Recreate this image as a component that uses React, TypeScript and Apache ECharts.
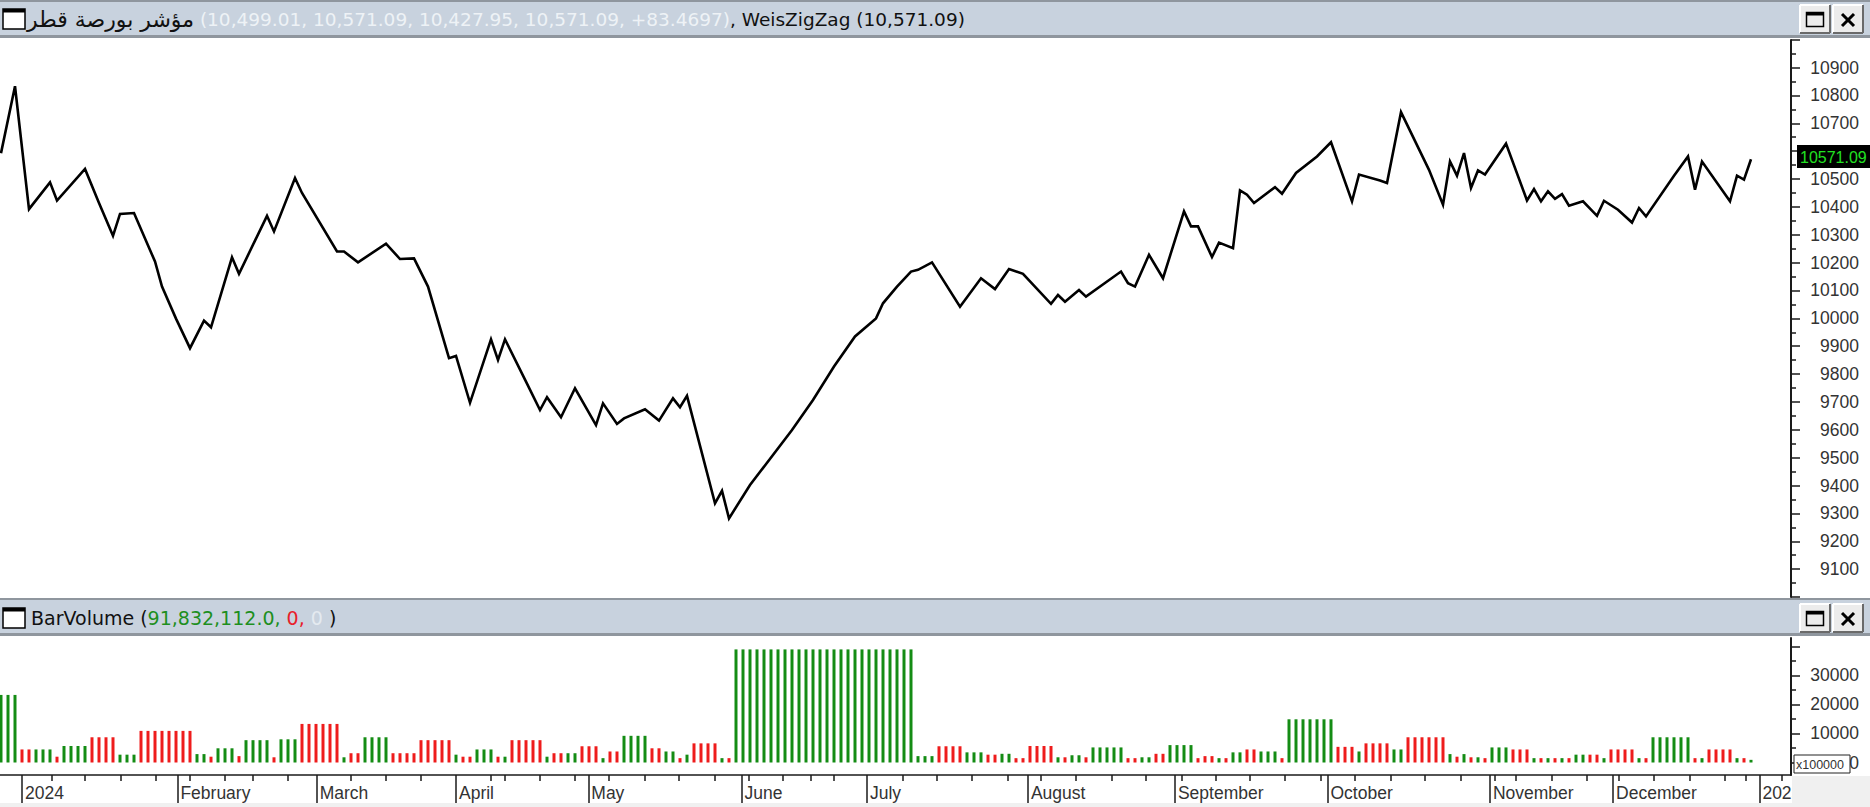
import React, { useEffect, useRef } from "react";
import * as echarts from "echarts";

// ---------- data (x = trading-bar index) ----------
const lineIdx = [0,2,4,7,8,12,14,16,17,19,22,23,25,27,29,30,33,34,38,39,42,43,48,49,51,55,57,59,61,64,65,67,70,71,72,75,77,78,80,82,85,86,88,89,92,94,96,97,98,102,103,104,107,113,116,119,122,125,126,128,130,131,133,137,140,142,144,146,150,151,152,154,155,160,161,162,164,166,169,170,171,173,174,176,177,178,179,182,183,185,188,190,193,194,197,198,200,204,206,207,208,209,210,211,212,215,218,219,220,221,222,223,224,226,228,229,231,233,234,235,239,241,242,243,247,248,249,250];
const lineVal = [10593,10833,10392,10488,10423,10536,10414,10296,10375,10378,10204,10114,9999,9893,9992,9968,10219,10160,10368,10312,10504,10450,10240,10240,10201,10268,10213,10215,10114,9857,9865,9697,9925,9851,9925,9773,9671,9717,9645,9749,9617,9695,9621,9641,9674,9633,9713,9681,9722,9336,9381,9282,9402,9599,9707,9827,9935,10000,10054,10114,10168,10174,10201,10042,10144,10105,10177,10160,10052,10084,10060,10102,10078,10168,10126,10114,10228,10144,10384,10330,10330,10220,10272,10252,10459,10444,10414,10471,10447,10522,10581,10632,10420,10516,10495,10486,10740,10533,10408,10563,10512,10593,10468,10531,10516,10627,10423,10464,10420,10456,10429,10446,10404,10420,10368,10422,10390,10344,10396,10366,10512,10581,10462,10563,10420,10512,10498,10571.09];

// volume waves (x100000): run length, height, up(1)/down(0)
const volRunLen = [3,2,3,1,4,4,3,8,2,1,3,1,4,1,3,6,1,2,4,4,5,1,2,3,1,1,5,1,2,2,3,1,2,4,2,2,1,1,4,1,1,26,3,4,3,2,2,2,4,1,1,2,1,5,2,2,2,4,1,2,1,1,2,2,3,1,7,3,1,4,2,6,1,1,1,1,1,1,3,3,1,1,1,1,1,1,2,2,1,4,1,1,6,1,1,4,1,1,1];
const volRunVal = [23300,4500,4500,2000,5700,8700,2700,10900,2900,2000,4900,2200,7700,1800,8000,13300,1800,3200,8700,3200,7700,2700,2000,4500,2000,2000,7700,2000,3200,3200,5600,1500,3800,9200,4900,3800,1500,2700,6600,1500,1500,39000,2200,5600,3500,2700,3000,1500,5700,1800,1800,2500,1800,5200,1500,1800,3000,6000,1500,2200,1500,1500,3500,4500,3800,1500,14900,5400,3800,6600,4500,8700,2900,2000,2900,1800,1800,1500,5200,4500,1500,1500,1500,1500,1500,1500,2700,2700,1500,4500,1500,1500,8700,1500,1500,4500,1500,1500,918];
const volRunUp = [1,0,1,0,1,0,1,0,1,0,1,0,1,0,1,0,1,0,1,0,0,1,0,1,0,1,0,1,0,1,0,1,0,1,0,1,0,1,0,1,0,1,1,0,1,0,1,0,0,1,0,1,0,1,0,1,0,1,0,0,1,0,1,0,1,0,1,0,1,0,1,0,1,0,1,0,1,0,1,0,1,0,1,0,1,0,1,0,1,0,1,0,1,0,1,0,1,0,1];

const monthIdx = [3.0, 25.2, 45.1, 65.0, 83.9, 105.8, 123.7, 146.7, 167.7, 189.5, 212.7, 230.3, 251.2];
const monthNames = ["2024","February","March","April","May","June","July","August","September","October","November","December","2025"];
const weekIdx = [7.2,12,17.1,22.1,27,32,36,41,50,55,60,70,72,77,82,86.8,91.9,96.8,101.9,106.8,111.7,115.7,118.9,128.8,133.7,138.7,143.8,148.6,153.6,158.7,163.6,168.7,173.5,178.4,183.4,188.5,193.4,198.5,203.4,208.5,213.4,216.4,221.5,226.5,231.1,236.1,241.3,246.3,249.2,254.4];

// price axis labels hidden: 9000 (bottom edge) and 10600 (under the last-price tag)
const priceHiddenLabels = [9000, 10600];
const volMajorTicks = [0, 10000, 20000, 30000, 40000];
const volLabelTicks = [0, 10000, 20000, 30000];
const volMinorTicks = [5000, 15000, 25000, 35000];

const TITLE_NAME = "مؤشر بورصة قطر";
const TITLE_VALUES = "(10,499.01, 10,571.09, 10,427.95, 10,571.09, +83.4697)";
const TITLE_IND = ", WeisZigZag (10,571.09)";
const LAST_PRICE = "10571.09";
const VOL_NAME = "BarVolume (";
const VOL_V1 = "91,832,112.0,";
const VOL_V2 = " 0,";
const VOL_V3 = " 0 ";

const GREEN = "#148c14";
const RED = "#ee1c1c";
const HEADER_BG = "#c8d2de";
const BORDER = "#8f969e";
const AXIS = "#1a1a1a";
const LABEL = "#333333";
const HFONT = "DejaVu Sans";
const AFONT = "Liberation Sans";

const X_MIN = -1 / 7;
const X_MAX = X_MIN + 1791 / 7;

function button(x: number, y: number, kind: "max" | "close"): any[] {
  const w = 30, h = 28;
  const els: any[] = [
    { type: "rect", z: 100, shape: { x, y, width: w, height: h }, style: { fill: "#ececec" } },
    { type: "line", z: 101, shape: { x1: x, y1: y, x2: x + w, y2: y }, style: { stroke: "#ffffff", lineWidth: 2 } },
    { type: "line", z: 101, shape: { x1: x, y1: y, x2: x, y2: y + h }, style: { stroke: "#ffffff", lineWidth: 2 } },
    { type: "line", z: 101, shape: { x1: x, y1: y + h, x2: x + w, y2: y + h }, style: { stroke: "#6a6a6a", lineWidth: 2 } },
    { type: "line", z: 101, shape: { x1: x + w, y1: y, x2: x + w, y2: y + h }, style: { stroke: "#6a6a6a", lineWidth: 2 } },
  ];
  if (kind === "max") {
    els.push({ type: "rect", z: 102, shape: { x: x + 6.5, y: y + 7.5, width: 17, height: 14 }, style: { fill: "none", stroke: "#000", lineWidth: 1.5 } });
    els.push({ type: "rect", z: 102, shape: { x: x + 6.5, y: y + 7.5, width: 17, height: 3 }, style: { fill: "#000" } });
  } else {
    els.push({ type: "line", z: 102, shape: { x1: x + 9, y1: y + 9, x2: x + 21, y2: y + 21 }, style: { stroke: "#000", lineWidth: 3 } });
    els.push({ type: "line", z: 102, shape: { x1: x + 21, y1: y + 9, x2: x + 9, y2: y + 21 }, style: { stroke: "#000", lineWidth: 3 } });
  }
  return els;
}

function windowIcon(x: number, y: number): any[] {
  return [
    { type: "rect", z: 101, shape: { x, y, width: 22, height: 20 }, style: { fill: "#ffffff", stroke: "#000", lineWidth: 1.5 } },
    { type: "rect", z: 102, shape: { x, y, width: 22, height: 3.5 }, style: { fill: "#000" } },
  ];
}

function headerBar(y: number): any[] {
  return [
    { type: "rect", z: 99, shape: { x: 0, y, width: 1870, height: 38 }, style: { fill: HEADER_BG } },
    { type: "rect", z: 99, shape: { x: 0, y, width: 1870, height: 2 }, style: { fill: BORDER } },
    { type: "rect", z: 99, shape: { x: 0, y: y + 35, width: 1870, height: 3 }, style: { fill: BORDER } },
  ];
}

export default function App() {
  const ref = useRef<HTMLDivElement>(null);
  useEffect(() => {
    if (!ref.current) return;
    const chart = echarts.init(ref.current, undefined, { renderer: "svg", width: 1870, height: 807 });

    const lineData = lineIdx.map((x, i) => [x, lineVal[i]]);
    const barData: any[] = [];
    let idx = 0;
    volRunLen.forEach((len, r) => {
      for (let k = 0; k < len; k++) {
        barData.push({ value: [idx, volRunVal[r]], itemStyle: { color: volRunUp[r] ? GREEN : RED } });
        idx++;
      }
    });

    const monthFmt = (v: number) => {
      const k = monthIdx.findIndex((m) => Math.abs(m - v) < 1e-6);
      return k >= 0 ? monthNames[k] : "";
    };
    const priceFmt = (v: number) => (priceHiddenLabels.indexOf(Math.round(v)) >= 0 ? "" : String(Math.round(v)));
    const volFmt = (v: number) => String(Math.round(v));

    const graphics: any[] = [
      ...headerBar(0),
      ...headerBar(598),
      ...windowIcon(3, 9),
      ...windowIcon(3, 608),
      {
        type: "text", z: 103, x: 27, y: 19,
        style: {
          text: `{ar|${TITLE_NAME}} {lt|${TITLE_VALUES}}{dk|${TITLE_IND}}`,
          verticalAlign: "middle", align: "left",
          fontFamily: HFONT, fontSize: 18.5, fill: "#111",
          rich: {
            ar: { fill: "#111111", fontFamily: HFONT, fontSize: 22 },
            lt: { fill: "#eef2f6", fontFamily: HFONT, fontSize: 18.5 },
            dk: { fill: "#111111", fontFamily: HFONT, fontSize: 18.5 },
          },
        },
      },
      {
        type: "text", z: 103, x: 31, y: 618,
        style: {
          text: `{dk|${VOL_NAME}}{gr|${VOL_V1}}{rd|${VOL_V2}}{lt|${VOL_V3}}{dk|)}`,
          verticalAlign: "middle", align: "left",
          fontFamily: HFONT, fontSize: 19, fill: "#111",
          rich: {
            dk: { fill: "#111111", fontFamily: HFONT, fontSize: 19 },
            gr: { fill: "#1e8f1e", fontFamily: HFONT, fontSize: 19 },
            rd: { fill: "#e8202a", fontFamily: HFONT, fontSize: 19 },
            lt: { fill: "#e4eaf0", fontFamily: HFONT, fontSize: 19 },
          },
        },
      },
      ...button(1800, 5, "max"),
      ...button(1833, 5, "close"),
      ...button(1800, 604, "max"),
      ...button(1833, 604, "close"),
      // last price tag
      { type: "rect", z: 104, shape: { x: 1797, y: 145, width: 73, height: 23 }, style: { fill: "#000000" } },
      { type: "text", z: 105, x: 1800, y: 157, style: { text: LAST_PRICE, fill: "#22e022", fontFamily: AFONT, fontSize: 16, verticalAlign: "middle", align: "left" } },
      // bottom-right corner
      { type: "rect", z: 104, shape: { x: 1792, y: 776, width: 78, height: 31 }, style: { fill: "#f0f0f0" } },
      { type: "rect", z: 98, shape: { x: 0, y: 803, width: 1792, height: 4 }, style: { fill: "#f0f0f0" } },
      // x100000 box
      { type: "rect", z: 104, shape: { x: 1794, y: 755, width: 56, height: 18 }, style: { fill: "#ffffff", stroke: "#222", lineWidth: 1 } },
      { type: "text", z: 105, x: 1796, y: 764.5, style: { text: "x100000", fill: "#333", fontFamily: AFONT, fontSize: 12.5, verticalAlign: "middle", align: "left" } },
    ];

    const option: any = {
      animation: false,
      backgroundColor: "#ffffff",
      grid: [
        { left: 0, width: 1791, top: 40, height: 557 },
        { left: 0, width: 1791, top: 638, height: 137 },
      ],
      xAxis: [
        { type: "value", gridIndex: 0, min: X_MIN, max: X_MAX, show: false },
        {
          type: "value", gridIndex: 1, position: "bottom", min: X_MIN, max: X_MAX,
          axisLine: { show: true, onZero: false, lineStyle: { color: AXIS, width: 1.5 } },
          axisTick: { show: true, customValues: weekIdx, length: 6, lineStyle: { color: AXIS, width: 1.5 } },
          axisLabel: { show: false },
          splitLine: { show: false },
        },
        {
          type: "value", gridIndex: 1, position: "bottom", min: X_MIN, max: X_MAX,
          axisLine: { show: false, onZero: false },
          axisTick: { show: true, customValues: monthIdx, length: 31, lineStyle: { color: AXIS, width: 1.5 } },
          axisLabel: {
            show: true, customValues: monthIdx, formatter: monthFmt, align: "left", margin: 9,
            padding: [0, 0, 0, 3], color: LABEL, fontSize: 17.5, fontFamily: AFONT,
          },
          splitLine: { show: false },
        },
      ],
      yAxis: [
        {
          type: "value", gridIndex: 0, position: "right", min: 9000, max: 10999, interval: 100,
          axisLine: { show: true, onZero: false, lineStyle: { color: AXIS, width: 2 } },
          axisTick: { show: true, length: 9, lineStyle: { color: AXIS, width: 1.5 } },
          minorTick: { show: true, splitNumber: 2, length: 5, lineStyle: { color: AXIS, width: 1.5 } },
          axisLabel: {
            showMinLabel: false, showMaxLabel: false, formatter: priceFmt,
            align: "right", margin: 68, color: LABEL, fontSize: 17.5, fontFamily: AFONT,
          },
          splitLine: { show: false },
          minorSplitLine: { show: false },
        },
        {
          type: "value", gridIndex: 1, position: "right", min: -4310, max: 42930,
          axisLine: { show: true, onZero: false, lineStyle: { color: AXIS, width: 2 } },
          axisTick: { show: true, customValues: volMajorTicks, length: 9, lineStyle: { color: AXIS, width: 1.5 } },
          axisLabel: {
            show: true, customValues: volLabelTicks, formatter: volFmt,
            align: "right", margin: 68, color: LABEL, fontSize: 17.5, fontFamily: AFONT,
          },
          splitLine: { show: false },
        },
        {
          type: "value", gridIndex: 1, position: "right", min: -4310, max: 42930,
          axisLine: { show: false, onZero: false },
          axisTick: { show: true, customValues: volMinorTicks, length: 5, lineStyle: { color: AXIS, width: 1.5 } },
          axisLabel: { show: false },
          splitLine: { show: false },
        },
      ],
      series: [
        {
          type: "line", xAxisIndex: 0, yAxisIndex: 0, data: lineData,
          showSymbol: false, symbol: "none",
          lineStyle: { color: "#000000", width: 2.6, join: "miter" },
          z: 3,
        },
        {
          type: "bar", xAxisIndex: 1, yAxisIndex: 1, data: barData,
          barWidth: 3,
        },
      ],
      graphic: { elements: graphics },
    };

    chart.setOption(option);
    return () => chart.dispose();
  }, []);

  return <div ref={ref} style={{ position: "fixed", left: 0, top: 0, width: 1870, height: 807 }} />;
}
